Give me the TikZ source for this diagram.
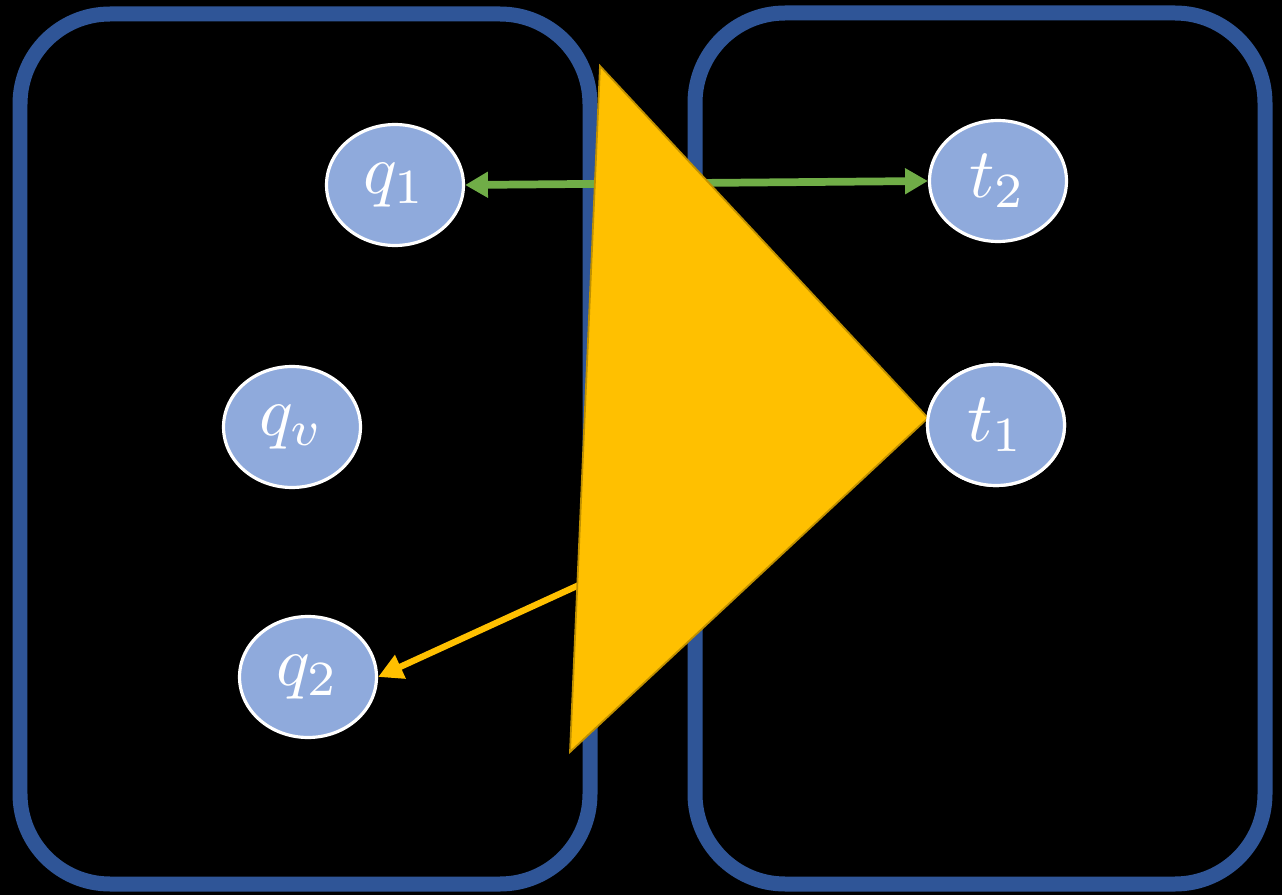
\documentclass[tikz,border=0pt]{standalone}
\usepackage{graphicx}
\usetikzlibrary{shapes.geometric,arrows.meta}
\definecolor{boxblue}{HTML}{2F5597}
\definecolor{nodefill}{HTML}{8FAADC}
\definecolor{gold}{HTML}{FFC000}
\definecolor{golddark}{HTML}{BF9000}
\definecolor{arrgreen}{HTML}{70AD47}
\newcommand{\stlbl}[1]{\scalebox{4.0}{\normalsize$#1$}}
\begin{document}
\begin{tikzpicture}[x=0.02cm,y=-0.02cm,
  panel/.style={draw=boxblue,line width=0.3cm,rounded corners=1.8cm},
  state/.style={ellipse,draw=white,line width=1.8pt,fill=nodefill,text=white,
    minimum width=2.74cm,minimum height=2.42cm,inner sep=0pt},
  greenarr/.style={draw=arrgreen,line width=4.4pt,{Triangle[length=13pt,width=14pt]}-{Triangle[length=13pt,width=14pt]}},
  goldarr/.style={draw=gold,line width=3.6pt,-{Triangle[length=14pt,width=14pt]}},
  wedge/.style={fill=gold,draw=golddark,line width=1pt,line join=miter}]
\fill[black] (0,0) rectangle (1282,895);
\useasboundingbox (0,0) rectangle (1282,895);
% panels
\draw[panel] (20,14) rectangle (590,884);
\draw[panel] (695,13) rectangle (1265,884);
% nodes
\node[state] (q1) at (395,185) {\stlbl{q_1}};
\node[state] (t2) at (998,181) {\stlbl{t_2}};
\node[state] (qv) at (292,427) {\stlbl{q_v}};
\node[state] (t1) at (996,425) {\stlbl{t_1}};
\node[state] (q2) at (308,677) {\stlbl{q_2}};
\coordinate (src) at (590,580);
% connectors behind the wedge
\draw[greenarr] (q1.east) -- (t2.west);
\draw[goldarr] (src) -- (q2.east);
% wedge
\coordinate (wa) at (600,66);
\coordinate (wb) at (570,752);
\coordinate (wc) at (928,418);
\filldraw[wedge] (wa) -- (wc) -- (wb) -- cycle;
% redraw t1 on top
\node[state] at (t1) {\stlbl{t_1}};
\end{tikzpicture}
\end{document}
